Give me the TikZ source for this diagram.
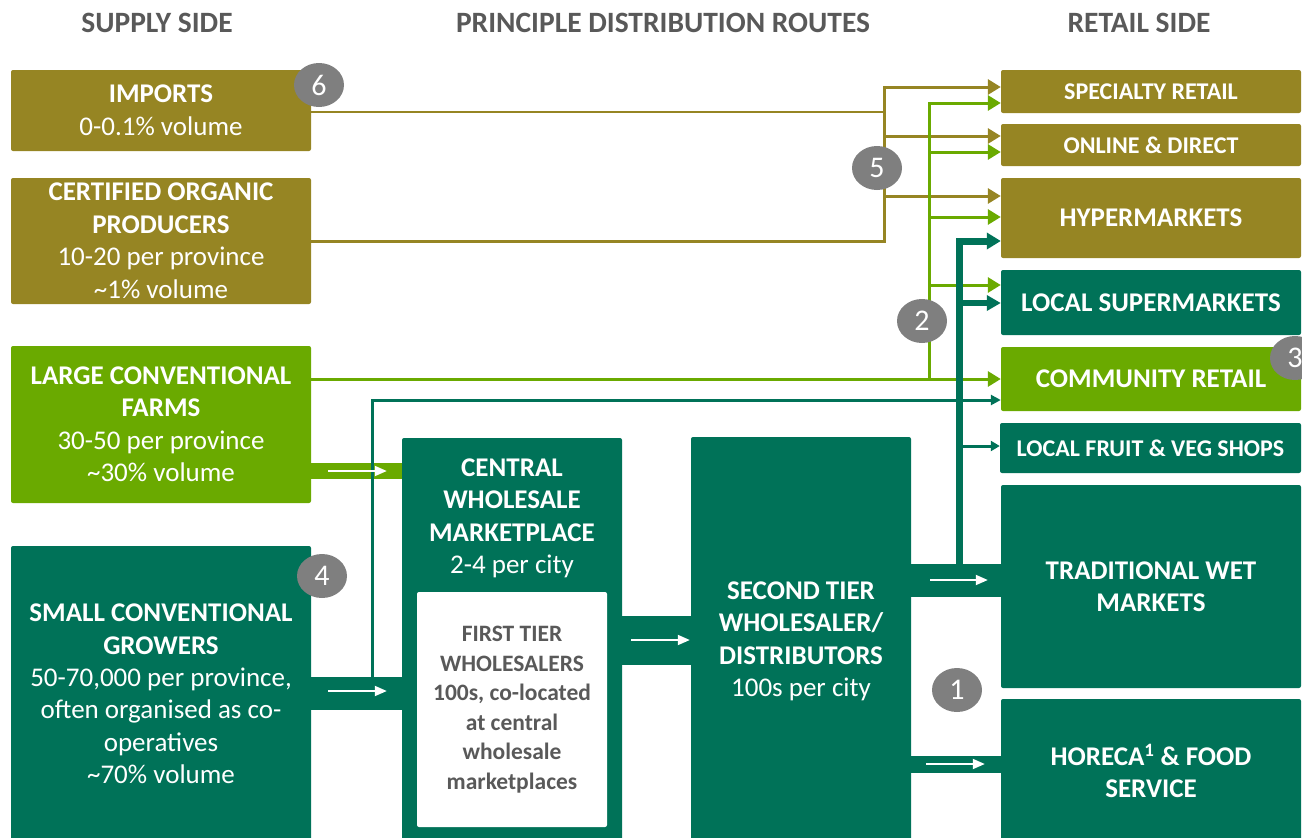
\documentclass[tikz,border=0pt]{standalone}
\usepackage{fontspec}
\setmainfont{Carlito}
\usetikzlibrary{arrows.meta,shapes.geometric,calc}

\definecolor{olivebar}{RGB}{150,133,35}
\definecolor{leafgreen}{RGB}{106,170,0}
\definecolor{deepteal}{RGB}{0,114,88}
\definecolor{badgegray}{RGB}{127,127,127}
\definecolor{headgray}{RGB}{89,89,89}

\tikzset{
  box/.style={rectangle, rounded corners=2pt, inner sep=0pt, align=center,
    text=white, font=\bfseries\fontsize{27}{32.5}\selectfont},
  smallbox/.style={box, font=\bfseries\fontsize{24}{29}\selectfont},
  head/.style={text=headgray, font=\bfseries\fontsize{29.5}{34}\selectfont, inner sep=0pt},
  badge/.style={ellipse, fill=badgegray, minimum width=50pt, minimum height=44pt,
    inner sep=0pt, text=white, font=\fontsize{30}{34}\selectfont},
  oliveline/.style={draw=olivebar, line width=3pt},
  greenline/.style={draw=leafgreen, line width=3pt},
  tip/.style={-{Triangle[length=13pt,width=15pt]}},
  flowmark/.style={draw=white, line width=1.8pt, -{Triangle[length=12pt,width=10pt]}},
}

\begin{document}
\begin{tikzpicture}[x=1pt,y=-1pt]
\useasboundingbox (0,0) rectangle (1302,838);
\clip (0,0) rectangle (1302,838);

% column headings
\node[head] (hsupply) at (157,23) {SUPPLY SIDE};
\node[head] (hroutes) at (663,23) {PRINCIPLE DISTRIBUTION ROUTES};
\node[head] (hretail) at (1139,23) {RETAIL SIDE};

% supply side
\node[box, fill=olivebar, minimum width=300pt, minimum height=81pt] (imports) at (161,110.5)
  {IMPORTS\\\textmd{0-0.1\% volume}};
\node[box, fill=olivebar, minimum width=300pt, minimum height=126pt] (certified) at (161,241)
  {CERTIFIED ORGANIC\\PRODUCERS\\\textmd{10-20 per province}\\\textmd{\textasciitilde1\% volume}};
\node[box, fill=leafgreen, minimum width=300pt, minimum height=157pt] (large) at (161,424.5)
  {LARGE CONVENTIONAL\\FARMS\\\textmd{30-50 per province}\\\textmd{\textasciitilde30\% volume}};
\node[box, fill=deepteal, minimum width=300pt, minimum height=296pt] (small) at (161,694)
  {SMALL CONVENTIONAL\\GROWERS\\\textmd{50-70,000 per province,}\\\textmd{often organised as co-}\\\textmd{operatives}\\\textmd{\textasciitilde70\% volume}};

% wholesale tiers
\node[box, fill=deepteal, minimum width=220pt, minimum height=408pt] (central) at (512,642) {};
\node[box, fill=none] (centraltxt) at (512,518.5)
  {CENTRAL\\WHOLESALE\\MARKETPLACE\\\textmd{2-4 per city}};
\node[box, fill=white, text=headgray, font=\bfseries\fontsize{23.5}{29.5}\selectfont,
  minimum width=190pt, minimum height=235pt] (firsttier) at (512,709.5)
  {FIRST TIER\\WHOLESALERS\\100s, co-located\\at central\\wholesale\\marketplaces};
\node[box, fill=deepteal, minimum width=220pt, minimum height=409pt] (second) at (801,641.5)
  {SECOND TIER\\WHOLESALER/\\DISTRIBUTORS\\\textmd{100s per city}};

% retail side
\node[smallbox, fill=olivebar, minimum width=300pt, minimum height=43pt] (specialty) at (1151,91.5) {SPECIALTY RETAIL};
\node[smallbox, fill=olivebar, minimum width=300pt, minimum height=42pt] (online) at (1151,145) {ONLINE \& DIRECT};
\node[box, fill=olivebar, minimum width=300pt, minimum height=80pt] (hyper) at (1151,218) {HYPERMARKETS};
\node[box, fill=deepteal, minimum width=300pt, minimum height=65pt] (localsuper) at (1151,302.5) {LOCAL SUPERMARKETS};
\node[box, fill=leafgreen, minimum width=300pt, minimum height=64pt] (community) at (1151,379) {COMMUNITY RETAIL};
\node[smallbox, fill=deepteal, minimum width=301pt, minimum height=50pt] (fruitveg) at (1150.5,448) {LOCAL FRUIT \& VEG SHOPS};
\node[box, fill=deepteal, minimum width=300pt, minimum height=203pt] (wet) at (1151,586.5) {TRADITIONAL WET\\MARKETS};
\node[box, fill=deepteal, minimum width=300pt, minimum height=144pt] (horeca) at (1151,771) {HORECA\textsuperscript{1} \& FOOD\\SERVICE};

% broad flows between blocks
\draw[draw=leafgreen, line width=16pt] (large.east |- 0,471) -- (central.west |- 0,471);
\draw[draw=deepteal, line width=33pt] (small.east |- 0,693.5) -- (central.west |- 0,693.5);
\draw[draw=deepteal, line width=49pt] (central.east |- 0,640.5) -- (second.west |- 0,640.5);
\draw[draw=deepteal, line width=33pt] (second.east |- 0,580.5) -- (wet.west |- 0,580.5);
\draw[draw=deepteal, line width=17pt] (second.east |- 0,764.5) -- (horeca.west |- 0,764.5);

% organic and import routes
\coordinate (obus) at (884,241);
\draw[draw=olivebar, line width=1.5pt] (imports.east |- 0,112) -- (obus |- 0,112);
\draw[oliveline, tip, line join=miter] (certified.east) -- (obus) |- (specialty.west |- 0,87);
\draw[oliveline, tip] (obus |- 0,136) -- (online.west |- 0,136);
\draw[oliveline, tip] (obus |- 0,196) -- (hyper.west |- 0,196);

% large conventional farm routes
\coordinate (gbus) at (929,379);
\draw[greenline, tip] (large.east |- community.west) -- (community.west);
\draw[greenline, tip, line join=miter] (gbus) |- (specialty.west |- 0,103);
\draw[greenline, tip] (gbus |- 0,152) -- (online.west |- 0,152);
\draw[greenline, tip] (gbus |- 0,217) -- (hyper.west |- 0,217);
\draw[greenline, tip] (gbus |- 0,285) -- (localsuper.west |- 0,285);

% small grower direct route
\coordinate (sgtap) at (372,680);
\draw[draw=deepteal, line width=3pt, line join=miter, -{Triangle[length=10pt,width=10pt]}]
  (sgtap) |- (community.west |- 0,400);

% second tier routes to modern retail
\coordinate (tbus) at (959,567);
\draw[draw=deepteal, line width=7pt, line join=miter, -{Triangle[length=14pt,width=16pt]}]
  (tbus) |- (hyper.west |- 0,241);
\draw[draw=deepteal, line width=6pt, -{Triangle[length=14pt,width=15pt]}]
  (tbus |- 0,303) -- (localsuper.west |- 0,303);
\draw[draw=deepteal, line width=3pt, -{Triangle[length=9pt,width=10pt]}]
  (tbus |- 0,446) -- (fruitveg.west |- 0,446);

% direction marks inside the broad flows
\draw[flowmark, shorten <=17pt, shorten >=15pt] (large.east |- 0,471) -- (central.west |- 0,471);
\draw[flowmark, shorten <=17pt, shorten >=15pt] (small.east |- 0,691) -- (central.west |- 0,691);
\draw[flowmark, shorten <=9pt, shorten >=1pt] (central.east |- 0,640) -- (second.west |- 0,640);
\draw[flowmark, shorten <=19pt, shorten >=13pt] (second.east |- 0,580) -- (wet.west |- 0,580);
\draw[flowmark, shorten <=15pt, shorten >=16pt] (second.east |- 0,764) -- (horeca.west |- 0,764);

% numbered badges
\node[badge] (b1) at (957,690) {1};
\node[badge] (b2) at (922,321) {2};
\node[badge] (b3) at (1295,358) {3};
\node[badge] (b4) at (322,576) {4};
\node[badge] (b5) at (877,168) {5};
\node[badge] (b6) at (319,85) {6};
\end{tikzpicture}
\end{document}
